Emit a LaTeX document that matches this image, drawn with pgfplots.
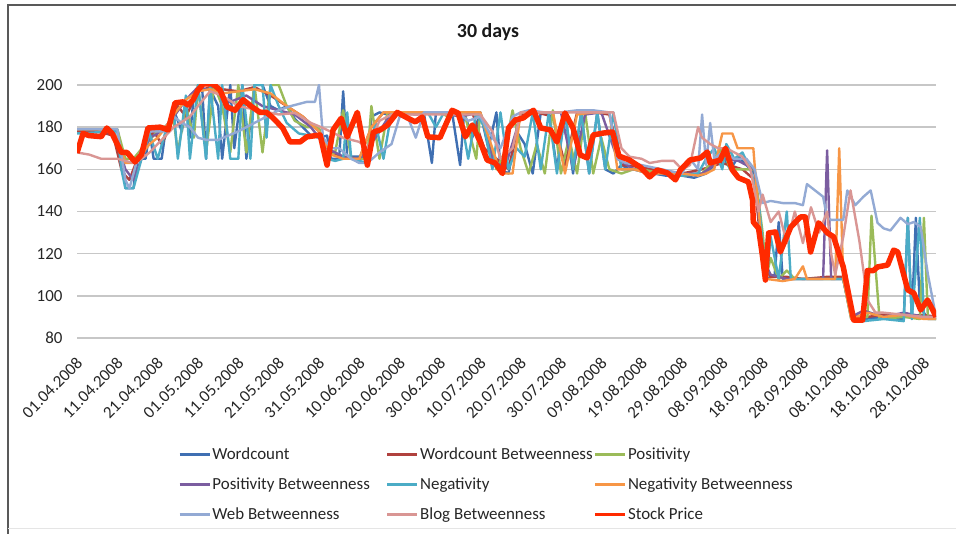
\documentclass[border=0pt]{standalone}
\usepackage{pgfplots}
\pgfplotsset{compat=1.18}
\usepackage{fontspec}
\setmainfont{Carlito}
\definecolor{cwc}{HTML}{3F6FB2}
\definecolor{cwcb}{HTML}{B0413E}
\definecolor{cpos}{HTML}{9BBB59}
\definecolor{cposb}{HTML}{7B5DA0}
\definecolor{cneg}{HTML}{4BACC6}
\definecolor{cnegb}{HTML}{F79646}
\definecolor{cweb}{HTML}{93AAD4}
\definecolor{cblog}{HTML}{D99694}
\definecolor{cstock}{HTML}{FF2A00}
\begin{document}
\begin{tikzpicture}[x=1bp,y=1bp]
\path[use as bounding box] (0,0) rectangle (956,534);
\draw[black!65, line width=1.3bp] (8,0) -- (8,529) -- (956,529);
\draw[black!10, line width=1bp] (8,5) -- (956,5);
\node[font=\bfseries\fontsize{20}{24}\selectfont, text=black!90] at (488,502) {30 days};
\begin{axis}[
  at={(77bp,196bp)}, anchor=south west, scale only axis,
  width=859bp, height=253bp,
  xmin=0, xmax=213, ymin=80, ymax=200,
  axis line style={draw=none}, tick style={draw=none},
  ymajorgrids, grid style={black!22, line width=1.4bp},
  ytick={80,100,...,200},
  xtick={0,10,...,210},
  xticklabels={01.04.2008,11.04.2008,21.04.2008,01.05.2008,11.05.2008,21.05.2008,31.05.2008,10.06.2008,20.06.2008,30.06.2008,10.07.2008,20.07.2008,30.07.2008,09.08.2008,19.08.2008,29.08.2008,08.09.2008,18.09.2008,28.09.2008,08.10.2008,18.10.2008,28.10.2008},
  /pgf/number format/assume math mode=true,
  ticklabel style={font=\fontsize{17}{20}\selectfont, text=black!85},
  xticklabel style={xshift=5bp, rotate=45, anchor=east},
  xticklabel shift=20bp,
  yticklabel shift=11bp,
  every axis plot/.append style={line join=round, line width=2.4bp},
  legend columns=3,
  legend cell align=left,
  legend style={draw=none, fill=none, at={(0.114,-0.419)}, anchor=north west,
    font=\fontsize{17}{20}\selectfont, text=black!85, row sep=14bp,
    nodes={inner sep=1.5bp},
    /tikz/every even column/.append style={column sep=0pt}},
  legend image code/.code={\draw[#1, line width=2.8bp] (0bp,0bp) -- (30bp,0bp);},
]
\addplot[color=cwc] coordinates {(0,179)(4,179)(8,179)(10,179)(11,170)(12,151)(14,151)(15,165)(17,165)(18,178)(19,165)(21,165)(22,179)(24,188)(26,178)(27,190)(28,175)(29,196)(31,200)(32,165)(33,198)(35,190)(36,165)(38,200)(39,170)(41,200)(42,165)(44,200)(46,200)(48,190)(50,188)(52,190)(54,184)(56,180)(58,176)(60,175)(62,176)(63,165)(65,165)(66,197)(67,166)(70,166)(72,165)(73,185)(75,187)(77,186)(79,187)(82,187)(84,187)(86,187)(88,163)(89,187)(91,187)(93,187)(95,162)(96,187)(98,175)(100,187)(102,170)(104,187)(105,160)(107,158)(109,178)(111,172)(113,158)(115,187)(117,187)(119,160)(121,187)(123,158)(125,187)(127,158)(129,187)(131,160)(133,158)(135,162)(137,160)(140,160)(143,158)(146,157)(150,157)(153,156)(156,158)(158,162)(160,167)(162,160)(164,166)(166,162)(168,158)(169,140)(170,120)(171,108)(173,110)(174,135)(175,108)(177,108)(180,108)(183,108)(186,108)(190,108)(192,90)(195,89)(200,90)(204,89)(205,89)(206,137)(207,89)(208,137)(209,95)(211,89)(213,89)};
\addlegendentry{\makebox[172bp][l]{Wordcount}}
\addplot[color=cwcb] coordinates {(0,178)(5,178)(9,176)(10,168)(11,160)(12,157)(13,155)(15,165)(17,172)(19,178)(21,172)(23,180)(25,190)(27,185)(30,197)(33,199)(36,198)(40,197)(44,199)(48,195)(52,190)(56,185)(60,178)(63,168)(66,166)(70,165)(73,180)(76,187)(80,187)(85,187)(90,187)(94,186)(98,187)(101,170)(104,165)(107,160)(110,186)(114,187)(118,185)(121,162)(124,187)(128,187)(132,186)(135,162)(140,161)(145,159)(150,158)(155,160)(160,163)(165,160)(168,155)(170,115)(172,109)(176,109)(180,108)(186,109)(190,109)(192,91)(196,90)(200,91)(205,90)(210,91)(213,90)};
\addlegendentry{\makebox[172bp][l]{Wordcount Betweenness}}
\addplot[color=cpos] coordinates {(0,179)(10,179)(12,165)(14,165)(17,172)(20,178)(24,183)(25,168)(27,190)(29,175)(30,200)(32,168)(34,200)(36,190)(38,168)(40,200)(42,168)(44,200)(46,168)(48,200)(50,200)(52,190)(54,183)(57,180)(60,180)(62,165)(64,168)(66,188)(68,165)(70,165)(72,165)(73,190)(75,165)(77,187)(80,187)(84,187)(88,187)(90,187)(92,185)(96,187)(99,165)(100,187)(102,175)(104,160)(106,168)(108,188)(110,170)(112,158)(114,172)(116,158)(118,188)(120,158)(122,175)(124,158)(126,187)(128,158)(130,175)(132,160)(135,158)(138,160)(140,160)(145,158)(150,157)(155,158)(158,165)(160,170)(162,160)(164,160)(166,160)(168,160)(170,130)(171,110)(172,118)(174,108)(176,112)(178,108)(185,108)(190,108)(192,89)(196,90)(197,138)(199,89)(205,90)(209,89)(210,137)(211,89)(213,89)};
\addlegendentry{Positivity}
\addplot[color=cposb] coordinates {(0,179)(9,179)(10,172)(12,160)(14,155)(16,165)(18,175)(21,178)(24,185)(27,193)(30,199)(34,197)(38,192)(42,195)(46,190)(50,188)(54,186)(58,180)(62,170)(66,166)(70,165)(74,175)(78,187)(84,186)(90,187)(95,185)(100,187)(103,165)(106,160)(110,185)(115,187)(120,187)(123,160)(126,186)(130,187)(134,165)(138,160)(142,158)(146,158)(150,158)(155,158)(160,165)(164,164)(168,160)(170,118)(172,110)(176,108)(180,108)(185,108)(186,169)(187,108)(190,108)(192,90)(195,93)(200,90)(205,92)(210,90)(213,90)};
\addlegendentry{\makebox[172bp][l]{Positivity Betweenness}}
\addplot[color=cneg] coordinates {(0,177)(9,178)(10,178)(11,160)(12,151)(14,151)(16,165)(18,177)(20,165)(22,178)(24,188)(25,165)(27,195)(28,165)(30,200)(32,165)(33,200)(35,165)(36,200)(38,165)(40,165)(41,200)(43,165)(44,200)(46,200)(47,175)(48,200)(50,190)(52,182)(55,177)(58,176)(60,176)(62,165)(64,164)(66,165)(67,187)(68,165)(70,164)(72,163)(74,182)(76,165)(78,187)(80,187)(84,187)(87,187)(89,180)(91,187)(95,187)(97,165)(99,187)(101,180)(103,160)(105,187)(107,160)(109,170)(111,166)(113,187)(115,160)(117,187)(119,158)(121,187)(123,160)(125,187)(127,158)(129,187)(131,160)(133,187)(135,160)(138,160)(142,158)(146,158)(150,157)(154,158)(156,165)(158,170)(160,160)(161,172)(163,165)(165,168)(167,160)(169,145)(170,125)(171,108)(172,128)(174,108)(176,140)(177,108)(180,108)(185,108)(190,108)(192,89)(195,88)(200,89)(205,88)(206,137)(207,89)(209,137)(210,90)(213,89)};
\addlegendentry{\makebox[172bp][l]{Negativity}}
\addplot[color=cnegb] coordinates {(0,179)(8,179)(10,175)(12,163)(14,163)(16,167)(18,172)(20,175)(22,180)(24,186)(27,193)(30,197)(33,198)(36,196)(40,197)(44,198)(48,196)(52,190)(56,185)(60,178)(63,167)(66,165)(70,165)(73,180)(76,187)(80,187)(85,187)(90,187)(95,187)(100,187)(103,170)(105,158)(108,158)(110,187)(114,187)(118,187)(121,158)(124,186)(128,187)(132,187)(134,160)(138,160)(142,158)(146,158)(150,158)(154,157)(156,158)(158,160)(160,177)(162.5,177)(163.8,170)(167.7,170)(168.2,158)(170,120)(171,108)(175,107)(178,108)(180,114)(181,108)(185,108)(188,108)(189,170)(190,108)(192,89)(196,92)(200,90)(205,91)(210,89)(213,89)};
\addlegendentry{Negativity Betweenness}
\addplot[color=cweb] coordinates {(0,179)(10,179)(12,155)(13,151)(15,165)(18,178)(22,178)(24,185)(26,182)(28,180)(30,175)(32,174)(35,174)(40,178)(45,183)(50,188)(53,190)(57,192)(59,192)(60,200)(61,175)(63,170)(65,170)(68,165)(70,163)(72,163)(75,168)(78,172)(80,185)(82,185)(84,175)(86,187)(90,187)(93,187)(95,186)(97,183)(100,185)(103,175)(105,170)(108,185)(110,187)(112,188)(116,187)(120,187)(124,188)(128,188)(132,187)(134,165)(136,163)(140,162)(145,160)(150,158)(152,165)(154,160)(155,186)(156,162)(157,182)(158,165)(160,168)(163,165)(166,165)(168,160)(170,144)(172,145)(175,144)(178,144)(180,143)(181,153)(183,150)(185,147)(186,137)(187,136)(190,136)(191,150)(193,143)(195,147)(196.8,150)(198.5,134.6)(200,132)(201.7,131)(204.2,137)(206,134)(207.5,135)(209.2,132.7)(211,110)(213,90)};
\addlegendentry{\makebox[172bp][l]{Web Betweenness}}
\addplot[color=cblog] coordinates {(0,168)(3,167)(6,165)(10,165)(14,163)(16,165)(18,168)(20,172)(24,180)(28,185)(30,190)(33,197)(36,195)(40,190)(45,188)(50,186)(54,186.7)(58,182)(61,179.6)(66,175)(70,173)(72,170)(75,183)(78,186)(80,186)(90,186)(95,186)(100,186)(103,178)(105,165)(108,170)(110,187)(115,187)(120,187)(125,187)(130,187)(133,187)(135,170)(137,166)(140,165)(142,163)(145,164)(148,164)(150,160)(152,162)(154,180)(155,175)(157,172)(159,170)(161,170)(163,168)(165,166)(167,160)(169,140)(170,148)(172,135)(174,140)(176,125)(178,140)(180,125)(182,142)(184,130)(186,140)(187,120)(188,110)(190,128)(191.8,150)(194,126)(196,98)(198,92)(200,92)(205,91)(210,90)(213,90)};
\addlegendentry{\makebox[172bp][l]{Blog Betweenness}}
\addplot[color=cstock, line width=5.5bp] coordinates {(0,167.8)(1.5,177)(3,176)(6,175.5)(7.4,179.6)(8.7,177)(11,168)(12.4,168)(14.4,163.5)(16,167)(17.6,179.6)(20.6,180)(22.6,178.7)(24.3,191.5)(26.3,192)(27.5,190.5)(28.8,193)(30,197.6)(31.3,200.5)(33.7,200.5)(35.5,197.6)(37.2,189.6)(39.2,188)(41.2,193)(43.4,189.6)(45.4,187)(47,187)(48.6,184.4)(51,179.6)(52.8,173)(55.3,173)(57,175.4)(60.3,176.3)(62,162)(63.5,178.7)(65.5,184.2)(67,175.4)(69.5,187)(72,162)(73.5,177.7)(75.2,178.7)(77,181)(79.4,187)(81.9,184.4)(83.9,182.5)(85.6,184.8)(87,175.4)(90,175)(93,188)(94.5,186.7)(96.3,175.4)(98,181)(100,173)(101.7,164.4)(103.7,163)(105.5,158)(107,179.6)(108.7,183.4)(110.7,184.4)(112.4,187)(113.2,188)(115,179.6)(117.4,178.7)(119,173)(121,186.7)(123,179.6)(124.8,166.8)(126.5,165.4)(128,176.3)(130.5,177.2)(132.8,177.7)(134.4,166.3)(137,164.4)(139.7,161)(142,156.4)(143.9,159.7)(146.4,158.3)(148.4,155)(149.6,159.7)(152,164.4)(154.6,165.4)(156.3,168.2)(157,163)(159.5,164.4)(160.8,170)(162.5,159.7)(164,156)(166.5,154)(167.5,145.5)(167.7,135)(169,132)(170,118.4)(170.7,107.5)(171.5,129.8)(173.2,130.3)(174.4,120.8)(177,132.7)(179.4,137.4)(180.6,137.4)(181.9,120.8)(183.9,134.6)(186.1,129.8)(187.6,128)(190,113.7)(192.6,88.5)(194.8,88.5)(196,112)(197.5,112)(198.5,113.7)(201,114.6)(202.5,121.7)(203.5,120.8)(206,102.8)(207.5,101.3)(209.2,93.3)(210.9,98)(212.2,93.3)(213,90)};
\addlegendentry{Stock Price}
\end{axis}
\end{tikzpicture}
\end{document}
